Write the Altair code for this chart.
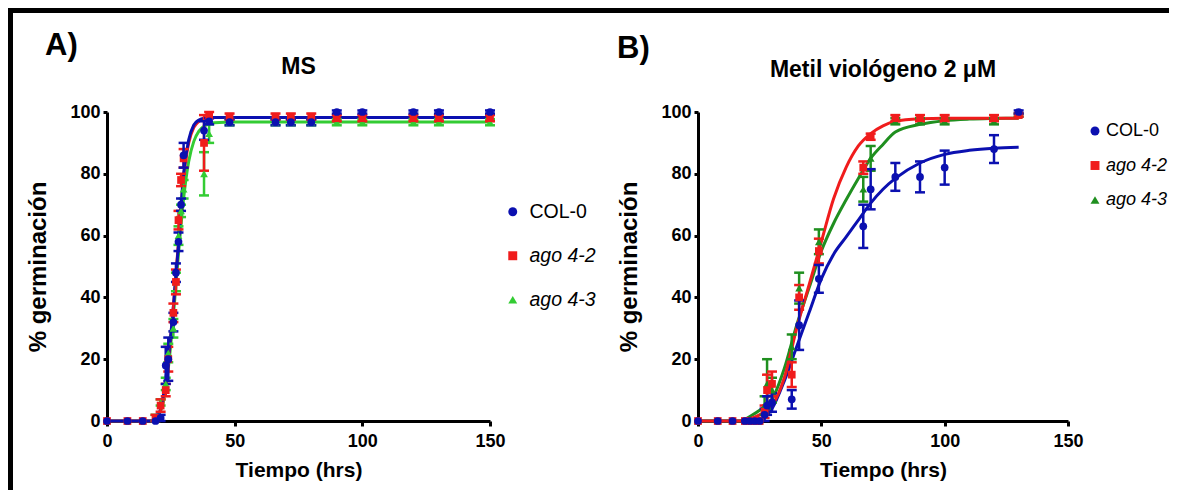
import altair as alt
import pandas as pd

SERIES = ["COL-0", "ago 4-2", "ago 4-3"]
SHAPES = ["circle", "square", "triangle-up"]
COLORS_A = ["#0b10b0", "#f01c1c", "#33cc33"]
COLORS_B = ["#0b10b0", "#f01c1c", "#1f8f1f"]

# ---------------- Panel A (MS) ----------------
t_A = [0, 8, 14, 19, 21, 23, 24, 26, 27, 28, 29, 30, 38, 40, 48, 66, 72, 80, 90, 100, 120, 130, 150]
col0_A = [0, 0, 0, 0, 1, 18, 20, 32, 48, 58, 70, 86, 94, 97, 96.7, 96.7, 96.7, 96.7, 100, 100, 100, 100, 100]
col0_A_err = [0, 0, 0, 0, 1, 6, 7, 3, 3, 3, 2, 4, 3, 1, 1, 1, 1, 1, 0.5, 0.5, 0.5, 0.5, 0.5]
ago42_A = [0, 0, 0, 1, 5, 10, 20, 35, 45, 65, 78, 85, 90, 99, 98.5, 98.5, 98.5, 98.5, 98, 98, 98, 98, 98]
ago42_A_err = [0, 0, 0, 1, 2, 2, 4, 3, 4, 3, 2, 3, 9, 1, 1, 1, 1, 1, 1, 1, 1, 1, 1]
ago43_A = [0, 0, 0, 1, 6, 12, 22, 30, 45, 60, 68, 75, 80, 93, 96.7, 96.7, 96.7, 96.7, 96.7, 96.7, 96.7, 96.7, 96.7]
ago43_A_err = [0, 0, 0, 1, 1, 2, 3, 3, 3, 3, 2, 3, 7, 3, 1, 1, 1, 1, 1, 1, 1, 1, 1]

fit_t_A = [0, 18, 20, 22, 24, 26, 28, 30, 32, 34, 36, 38, 42, 50, 150]
fit_col0_A = [0, 0, 1.5, 8, 20, 37, 57, 80, 91, 95.8, 97.4, 98, 98.2, 98.2, 98.2]
fit_ago42_A = [0, 0, 1.5, 7, 19, 37, 58, 79, 90, 95, 97, 97.8, 98.2, 98.2, 98.2]
fit_ago43_A = [0, 0, 1.5, 6, 17, 34, 54, 72, 84, 90.5, 93.8, 95.4, 96.5, 96.8, 96.8]

# ---------------- Panel B (Metil viologeno) ----------------
t_B = [0, 8, 14, 19, 21, 23, 25, 27, 28, 30, 38, 41, 49, 67, 70, 80, 90, 100, 120, 130]
col0_B = [0, 0, 0, 0, 0, 0, 0, 2, 5, 6, 7, 31, 46, 63, 75, 79, 79, 82, 88, 100]
col0_B_err = [0, 0, 0, 0, 0, 0, 0, 2, 3, 3, 3, 8, 4.5, 7, 6.5, 4.5, 5, 5.5, 4.5, 0.5]
ago42_B = [0, 0, 0, 0, 0, 0, 0, 3, 10, 12, 15, 40, 55, 82, 92, 98, 98, 98, 98, 99]
ago42_B_err = [0, 0, 0, 0, 0, 0, 0, 2, 5, 4, 4, 4, 4, 2, 1, 1, 1, 1, 1, 0.5]
ago43_B = [0, 0, 0, 0, 0, 0, 0, 5, 12, 10, 24, 43, 58, 75, 85, 97, 97, 97, 97, 99]
ago43_B_err = [0, 0, 0, 0, 0, 0, 0, 3, 8, 4, 4, 5, 4, 4, 4, 1, 1, 1, 1, 0.5]

fit_t_B = [0, 15, 18, 20, 25, 30, 35, 40, 45, 50, 55, 60, 65, 70, 75, 80, 90, 100, 110, 120, 130]
fit_col0_B = [0, 0, 0, 0, 0.5, 4, 13, 24, 35, 46, 54, 59.5, 65, 70.5, 75, 78.5, 83.5, 86.3, 87.6, 88.3, 88.6]
fit_ago42_B = [0, 0, 0, 0.5, 2, 5, 14, 30, 44, 58, 72, 82, 89, 93, 95.5, 97, 97.8, 98, 98, 98, 98]
fit_ago43_B = [0, 0, 0, 1, 3.5, 7, 17, 31, 43, 55, 64, 71.5, 78.5, 85, 89.5, 93.5, 96, 97.2, 97.7, 97.9, 98]

FONT_N = "Liberation Sans Narrow, Arial Narrow, Liberation Sans, Arial"
FONT_R = "Liberation Sans, Arial"


def points_df(t, series_vals, order):
    rows = []
    for name in order:
        vals, errs = series_vals[name]
        for ti, v, e in zip(t, vals, errs):
            rows.append({"t": ti, "v": v, "err": e, "lo": v - e, "hi": v + e, "series": name})
    return pd.DataFrame(rows)


def fit_df(t, series_vals):
    rows = []
    for name, vals in series_vals.items():
        for ti, v in zip(t, vals):
            rows.append({"t": ti, "v": v, "series": name})
    return pd.DataFrame(rows)


def one():
    return alt.Data(values=[{"a": 1}])


def panel(pts, fits, colors, line_order, pt_order, width, height, title, title_x, title_y,
          letter, letter_x, letter_y, leg_x, leg_y, leg_size, leg_rowpad, leg_offset,
          left_ext, right_ext, left_bar):
    xs = alt.Scale(domain=[0, 150], nice=False)
    ys = alt.Scale(domain=[0, 100], nice=False)
    xax = alt.Axis(values=[0, 50, 100, 150], title="Tiempo (hrs)", labelFlush=False,
                   labelOverlap=False, tickSize=5, labelPadding=6, titlePadding=9)
    yax = alt.Axis(values=[0, 20, 40, 60, 80, 100], title="% germinación", tickSize=4,
                   labelPadding=3, titlePadding=19)
    X = alt.X("t:Q", scale=xs, axis=xax)
    Y = alt.Y("v:Q", scale=ys, axis=yax)
    sscale = alt.Scale(domain=SERIES, range=colors)
    cmap = dict(zip(SERIES, colors))
    layers = []
    # frame decorations
    layers.append(alt.Chart(one()).mark_rect(color="black").encode(
        x=alt.value(-left_ext), x2=alt.value(right_ext), y=alt.value(-104), y2=alt.value(-99)))
    if left_bar:
        layers.append(alt.Chart(one()).mark_rect(color="black").encode(
            x=alt.value(-left_ext), x2=alt.value(-left_ext + 5), y=alt.value(-104), y2=alt.value(378)))
    # fitted curves
    for s in line_order:
        layers.append(alt.Chart(fits).transform_filter(alt.datum.series == s).mark_line(
            strokeWidth=3, interpolate="monotone", color=cmap[s]).encode(x=X, y=Y))
    # error bars
    for s in pt_order:
        eb = alt.Chart(pts).transform_filter(
            (alt.datum.series == s) & (alt.datum.err > 0))
        layers.append(eb.mark_rule(strokeWidth=2.5, color=cmap[s]).encode(
            x=X, y=alt.Y("lo:Q", scale=ys, axis=yax), y2="hi:Q"))
        for f in ["lo", "hi"]:
            layers.append(eb.mark_rule(strokeWidth=2.5, xOffset=-5, x2Offset=5,
                                       color=cmap[s]).encode(
                x=X, x2="t:Q", y=alt.Y(f + ":Q", scale=ys, axis=yax)))
    leg = alt.Legend(orient="none", legendX=leg_x, legendY=leg_y, title=None, padding=0,
                     labelFont=FONT_R, labelFontSize=leg_size, labelColor="black",
                     labelFontStyle=alt.ExprRef("datum.label == 'COL-0' ? 'normal' : 'italic'"),
                     symbolSize=80, symbolStrokeWidth=0, rowPadding=leg_rowpad,
                     labelOffset=leg_offset)
    layers.append(alt.Chart(pts).mark_point(filled=True, opacity=1, size=60).encode(
        x=X, y=Y,
        color=alt.Color("series:N", scale=sscale, legend=leg),
        shape=alt.Shape("series:N", scale=alt.Scale(domain=SERIES, range=SHAPES), legend=leg)))
    # titles
    layers.append(alt.Chart(one()).mark_text(text=title, font=FONT_N, fontSize=23,
                                             fontWeight="bold", align="center",
                                             baseline="middle", color="black").encode(
        x=alt.value(title_x), y=alt.value(title_y)))
    layers.append(alt.Chart(one()).mark_text(text=letter, font=FONT_R, fontSize=31,
                                             fontWeight="bold", align="left",
                                             baseline="alphabetic", color="black").encode(
        x=alt.value(letter_x), y=alt.value(letter_y)))
    return alt.layer(*layers).properties(width=width, height=height)


ORDER = ["ago 4-3", "ago 4-2", "COL-0"]
pA = points_df(t_A, {"COL-0": (col0_A, col0_A_err), "ago 4-2": (ago42_A, ago42_A_err),
                     "ago 4-3": (ago43_A, ago43_A_err)}, ORDER)
fA = fit_df(fit_t_A, {"COL-0": fit_col0_A, "ago 4-2": fit_ago42_A, "ago 4-3": fit_ago43_A})
pB = points_df(t_B, {"COL-0": (col0_B, col0_B_err), "ago 4-2": (ago42_B, ago42_B_err),
                     "ago 4-3": (ago43_B, ago43_B_err)}, ORDER)
fB = fit_df(fit_t_B, {"COL-0": fit_col0_B, "ago 4-2": fit_ago42_B, "ago 4-3": fit_ago43_B})

panelA = panel(pA, fA, COLORS_A, ["ago 4-3", "ago 4-2", "COL-0"], ORDER, 383, 309, "MS", 191.5, -45,
               "A)", -62, -57, 396, 90, 19.5, 23, 7, 99, 493, True)
panelB = panel(pB, fB, COLORS_B, ["COL-0", "ago 4-3", "ago 4-2"], ORDER, 370, 309,
               "Metil viológeno 2 μM", 185, -42, "B)", -81, -54, 388, 10, 18, 16.5, 2,
               98, 471, False)

chart = alt.hconcat(panelA, panelB, spacing=0).resolve_scale(
    color="independent", shape="independent"
).properties(padding=0).configure_view(stroke=None).configure_axis(
    domainColor="black", domainWidth=3, tickColor="black", tickWidth=3, grid=False,
    labelFont=FONT_N, labelFontSize=18, labelFontWeight="bold", labelColor="black",
    titleFont=FONT_N, titleFontSize=21, titleFontWeight="bold", titleColor="black"
).configure_axisY(titleFont=FONT_R, titleFontSize=24)

chart.save("out.html", embed_options={"renderer": "svg", "actions": False})
